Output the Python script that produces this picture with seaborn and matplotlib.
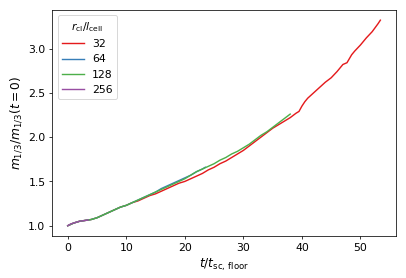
import numpy as np
import pandas as pd
import matplotlib
matplotlib.use('Agg')
import matplotlib.pyplot as plt
import seaborn as sns

# time grids (t / t_sc,floor) and normalised m_1/3 for each resolution
t_32 = [0, 1, 2, 3, 4, 5, 6, 7, 8, 9, 10, 11, 12, 13, 14, 15, 16, 17, 18, 19,
        20, 21, 22, 23, 24, 25, 26, 27, 28, 29, 30, 31, 32, 33, 34, 35, 36, 37,
        38, 39, 39.5, 40, 40.5, 41, 42, 43, 44, 45, 46, 47, 47.7, 48.5, 49, 50,
        51, 52, 53, 53.4]
m_32 = [1.00, 1.03, 1.05, 1.06, 1.07, 1.09, 1.12, 1.15, 1.18, 1.21, 1.23, 1.26,
        1.28, 1.31, 1.34, 1.36, 1.39, 1.42, 1.45, 1.48, 1.50, 1.53, 1.56, 1.59,
        1.63, 1.66, 1.70, 1.73, 1.77, 1.81, 1.85, 1.90, 1.95, 2.00, 2.05, 2.10,
        2.14, 2.18, 2.22, 2.27, 2.29, 2.35, 2.40, 2.44, 2.50, 2.56, 2.62, 2.67,
        2.74, 2.82, 2.84, 2.93, 2.97, 3.04, 3.12, 3.19, 3.28, 3.32]

t_64 = [0, 1, 2, 3, 4, 5, 6, 7, 8, 9, 10, 11, 12, 13, 14, 15, 16, 17, 18, 19,
        20, 21, 22, 23, 23.5]
m_64 = [1.00, 1.03, 1.05, 1.06, 1.07, 1.09, 1.12, 1.15, 1.18, 1.21, 1.23, 1.26,
        1.29, 1.32, 1.35, 1.38, 1.42, 1.45, 1.48, 1.51, 1.54, 1.57, 1.61, 1.64,
        1.66]

t_128 = [0, 1, 2, 3, 4, 5, 6, 7, 8, 9, 10, 11, 12, 13, 14, 15, 16, 17, 18, 19,
         20, 21, 22, 23, 24, 25, 26, 27, 28, 29, 30, 31, 32, 33, 34, 35, 36, 37,
         38]
m_128 = [1.00, 1.03, 1.05, 1.06, 1.07, 1.09, 1.12, 1.15, 1.18, 1.21, 1.23, 1.26,
         1.29, 1.32, 1.35, 1.38, 1.41, 1.44, 1.47, 1.50, 1.53, 1.57, 1.61, 1.64,
         1.67, 1.70, 1.74, 1.77, 1.81, 1.84, 1.88, 1.92, 1.97, 2.02, 2.06, 2.11,
         2.16, 2.21, 2.26]

t_256 = [0, 0.5, 1, 1.5, 2, 2.5, 3, 3.5]
m_256 = [1.00, 1.02, 1.03, 1.04, 1.05, 1.055, 1.06, 1.065]

resolutions = ['32', '64', '128', '256']

frames = []
for res, t, m in zip(resolutions, [t_32, t_64, t_128, t_256],
                     [m_32, m_64, m_128, m_256]):
    frames.append(pd.DataFrame({'t': t, 'm': m, 'res': res}))
df = pd.concat(frames, ignore_index=True)

fig, ax = plt.subplots(figsize=(6.0, 4.1), dpi=67.83)
fig.subplots_adjust(left=0.128, right=0.973, top=0.964, bottom=0.151)

sns.lineplot(data=df, x='t', y='m', hue='res', hue_order=resolutions,
             palette=sns.color_palette('Set1', 4), sort=False,
             estimator=None, lw=1.5, ax=ax)

ax.set_xlabel(r'$t/t_{\rm sc,\,floor}$', fontsize=13)
ax.set_ylabel(r'$m_{1/3}/m_{1/3}(t=0)$', fontsize=13)
ax.set_xticks([0, 10, 20, 30, 40, 50])
ax.set_yticks([1.0, 1.5, 2.0, 2.5, 3.0])
ax.tick_params(labelsize=11.5)
ax.legend(title=r'$r_{\rm cl}/l_{\rm cell}$', loc='upper left',
          fontsize=11.5, title_fontsize=11.5)

fig.savefig('out.png', dpi=67.83)
plt.close(fig)
